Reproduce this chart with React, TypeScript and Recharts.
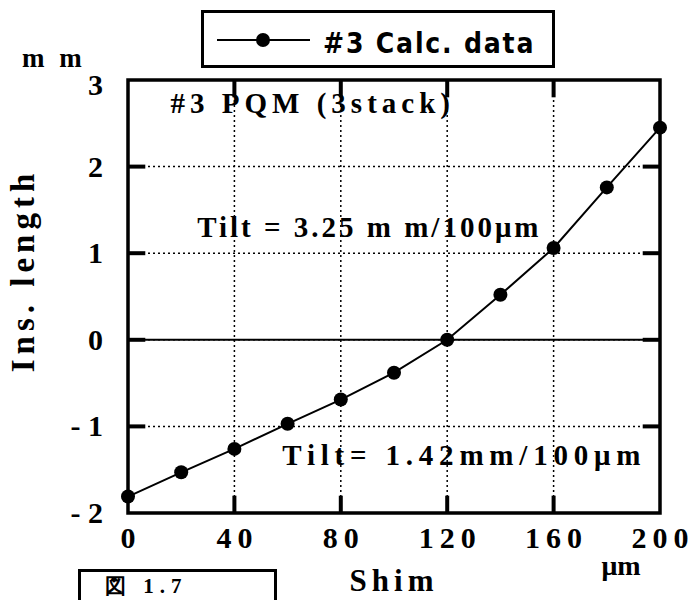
import {
  LineChart,
  Line,
  XAxis,
  YAxis,
  CartesianGrid,
  ReferenceLine,
  ReferenceArea,
  ReferenceDot,
  Legend,
} from "recharts";

// Shim thickness (µm) vs. insertion length (mm), #3 PQM calc. data
const shim = [0, 20, 40, 60, 80, 100, 120, 140, 160, 180, 200];
const insLength = [-1.81, -1.53, -1.26, -0.97, -0.69, -0.38, 0, 0.52, 1.06, 1.76, 2.45];
const xTicks = [0, 40, 80, 120, 160, 200];
const yTicks = [-2, -1, 0, 1, 2, 3];

const data = shim.map((s, i) => ({ shim: s, len: insLength[i] }));

const SERIF = "'Liberation Serif', 'DejaVu Serif', serif";
const NARROW = "'Liberation Sans Narrow', 'DejaVu Sans Condensed', 'Liberation Sans', sans-serif";

const XTick = (props: any) => {
  const { x, y, payload } = props;
  return (
    <text x={x + 3} y={y + 35} textAnchor="middle" fontFamily={SERIF} fontWeight="bold" fontSize={30} letterSpacing={6} fill="#000">
      {payload.value}
    </text>
  );
};

const YTick = (props: any) => {
  const { x, y, payload } = props;
  const v = payload.value;
  const label = v < 0 ? `- ${Math.abs(v)}` : `${v}`;
  return (
    <text x={x - 25} y={y + (v === 3 ? 15 : 10)} textAnchor="end" fontFamily={SERIF} fontWeight="bold" fontSize={30} fill="#000">
      {label}
    </text>
  );
};

const Anno = ({ viewBox, text, spacing }: any) => (
  <text x={viewBox.x} y={viewBox.y} fontFamily={SERIF} fontWeight="bold" fontSize={29} letterSpacing={spacing} fill="#000">
    {text}
  </text>
);

const LegendBox = ({ payload }: any) => (
  <div style={{ width: 354, height: 58, border: "3px solid #000", boxSizing: "border-box", background: "#fff" }}>
    <svg width={348} height={52}>
      <line x1={13} y1={27} x2={106} y2={27} stroke="#000" strokeWidth={2} />
      <circle cx={59} cy={27} r={7} fill="#000" />
      <text x={119} y={40} fontFamily={NARROW} fontWeight="bold" fontSize={28} letterSpacing={1.8} fill="#000">
        {payload?.[0]?.value}
      </text>
    </svg>
  </div>
);

export default function App() {
  return (
    <div style={{ position: "fixed", left: 0, top: 0, width: 694, height: 600, overflow: "hidden", background: "#fff" }}>
      <LineChart width={694} height={600} data={data} margin={{ top: 80, right: 34, left: 68, bottom: 27 }}>
        <CartesianGrid stroke="#000" strokeDasharray="2 3" strokeWidth={1.5} />
        <XAxis
          dataKey="shim"
          type="number"
          domain={[0, 200]}
          ticks={xTicks}
          height={60}
          tickSize={0}
          tickMargin={0}
          axisLine={false}
          tickLine={false}
          tick={<XTick />}
          label={{
            content: ({ viewBox }: any) => (
              <g fontFamily={SERIF} fontWeight="bold" fill="#000">
                <text x={viewBox.x + viewBox.width / 2} y={viewBox.y + 78} textAnchor="middle" fontSize={31} letterSpacing={5}>
                  Shim
                </text>
                <text x={viewBox.x + viewBox.width - 39} y={viewBox.y + 62} textAnchor="middle" fontSize={28}>
                  μm
                </text>
              </g>
            ),
          }}
        />
        <YAxis
          dataKey="len"
          type="number"
          domain={[-2, 3]}
          ticks={yTicks}
          width={60}
          tickSize={0}
          tickMargin={0}
          axisLine={false}
          tickLine={false}
          tick={<YTick />}
          label={{
            content: ({ viewBox }: any) => {
              const cx = viewBox.x - 45;
              const cy = viewBox.y + viewBox.height / 2 - 26;
              return (
                <g fontFamily={SERIF} fontWeight="bold" fill="#000">
                  <text x={cx} y={cy} transform={`rotate(-90 ${cx} ${cy})`} textAnchor="middle" dominantBaseline="central" fontSize={33} letterSpacing={5}>
                    Ins. length
                  </text>
                  <text x={viewBox.x - 46} y={viewBox.y - 13} fontSize={27} letterSpacing={4}>
                    m m
                  </text>
                </g>
              );
            },
          }}
        />
        <ReferenceLine y={0} stroke="#000" strokeWidth={2} />
        {xTicks.slice(1, -1).map((t) => (
          <ReferenceLine key={`xb${t}`} segment={[{ x: t, y: -2 }, { x: t, y: -1.8 }]} stroke="#000" strokeWidth={4} />
        ))}
        {xTicks.slice(1, -1).map((t) => (
          <ReferenceLine key={`xt${t}`} segment={[{ x: t, y: 3 }, { x: t, y: 2.8 }]} stroke="#000" strokeWidth={4} />
        ))}
        {yTicks.slice(1, -1).map((t) => (
          <ReferenceLine key={`yl${t}`} segment={[{ x: 0, y: t }, { x: 6.5, y: t }]} stroke="#000" strokeWidth={4} />
        ))}
        {yTicks.slice(1, -1).map((t) => (
          <ReferenceLine key={`yr${t}`} segment={[{ x: 193.5, y: t }, { x: 200, y: t }]} stroke="#000" strokeWidth={4} />
        ))}
        <ReferenceArea x1={0} x2={200} y1={-2} y2={3} fill="none" stroke="#000" strokeWidth={3.5} fillOpacity={0} />
        <ReferenceDot x={16} y={2.62} r={0} stroke="none" fill="none"
          label={(p: any) => <Anno {...p} text="#3 PQM (3stack)" spacing={5} />} />
        <ReferenceDot x={26} y={1.19} r={0} stroke="none" fill="none"
          label={(p: any) => <Anno {...p} text="Tilt = 3.25 m m/100μm" spacing={3} />} />
        <ReferenceDot x={58} y={-1.44} r={0} stroke="none" fill="none"
          label={(p: any) => <Anno {...p} text="Tilt= 1.42mm/100μm" spacing={5.8} />} />
        <Legend
          layout="horizontal"
          verticalAlign="middle"
          align="center"
          wrapperStyle={{ left: 201, top: 10, width: 354, height: 58 }}
          content={<LegendBox />}
        />
        <Line
          dataKey="len"
          name="#3 Calc. data"
          type="linear"
          stroke="#000"
          strokeWidth={2}
          dot={{ r: 7, fill: "#000", stroke: "#000", strokeWidth: 0 }}
          isAnimationActive={false}
        />
      </LineChart>
      <div
        style={{
          position: "absolute",
          left: 78,
          top: 569,
          width: 199,
          height: 60,
          border: "3px solid #000",
          boxSizing: "border-box",
          fontFamily: SERIF,
          fontWeight: "bold",
          fontSize: 21,
          lineHeight: "24px",
          letterSpacing: 6,
          paddingLeft: 24,
          paddingTop: 2,
        }}
      >
        図 1.7
      </div>
    </div>
  );
}
